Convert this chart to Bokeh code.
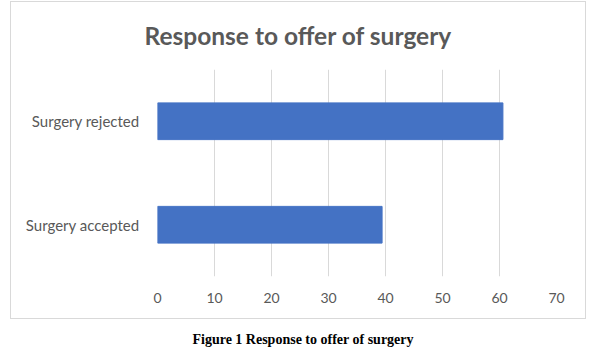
from bokeh.plotting import figure
from bokeh.models import Div, FactorRange, SingleIntervalTicker
from bokeh.layouts import column
from bokeh.embed import file_html
from bokeh.resources import INLINE

categories = ["Surgery accepted", "Surgery rejected"]
values = [39.4, 60.6]
title_text = "Response to offer of surgery"
caption_text = "Figure 1 Response to offer of surgery"

p = figure(width=576, height=318, y_range=FactorRange(*categories, range_padding=0),
           x_range=(0, 70), output_backend="svg", toolbar_location=None,
           title=title_text, min_border_left=146, min_border_right=31,
           min_border_top=67, min_border_bottom=44)
p.hbar(y=categories, right=values, left=0, height=0.355, color="#4472C4")

p.title.align = "left"
p.title.vertical_align = "top"
p.title.offset = -13
p.title.standoff = 36
p.title.text_font = "Lato"
p.title.text_font_size = "24.5px"
p.title.text_font_style = "bold"
p.title.text_color = "#595959"

p.xaxis.ticker = SingleIntervalTicker(interval=10)
for ax in (p.xaxis, p.yaxis):
    ax.axis_line_color = None
    ax.major_tick_line_color = None
    ax.minor_tick_line_color = None
    ax.major_label_text_font = "Lato"
    ax.major_label_text_color = "#595959"
p.xaxis.major_label_text_font_size = "14px"
p.yaxis.major_label_text_font_size = "15px"
p.xaxis.major_label_standoff = 10
p.yaxis.major_label_standoff = 12
p.xgrid.grid_line_color = "#d9d9d9"
p.ygrid.grid_line_color = None
p.outline_line_color = None
p.styles = {"border": "1px solid #d9d9d9", "box-sizing": "border-box"}

cap = Div(text=caption_text, width=576, height=28,
          styles={"text-align": "center", "font-family": "Liberation Serif",
                  "font-weight": "bold", "font-size": "14px", "color": "#000",
                  "width": "576px", "padding-top": "6px"})

layout = column(p, cap, spacing=0, margin=(1, 0, 0, 10))

open("out.html", "w").write(file_html(layout, INLINE))
